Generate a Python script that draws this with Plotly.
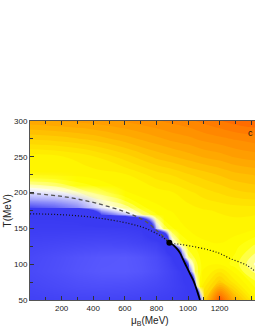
import plotly.graph_objects as go

# ---------------- data ----------------
# warm field (white -> yellow -> orange), coarse grid
warm_mu = [0, 200, 400, 600, 800, 900, 1000, 1100, 1200, 1300, 1430]
warm_T = [50, 75, 100, 125, 150, 175, 200, 225, 250, 275, 300]
warm_z = [
    [0, 0, 0, 0, 0, 0, 0, 0.45, 0.98, 0.60, 0.30],
    [0, 0, 0, 0, 0, 0, 0, 0.32, 0.50, 0.34, 0.18],
    [0, 0, 0, 0, 0, 0, 0.05, 0.26, 0.27, 0.20, 0.06],
    [0, 0, 0, 0, 0, 0.03, 0.20, 0.26, 0.27, 0.24, 0.16],
    [0, 0, 0, 0, 0.06, 0.22, 0.28, 0.30, 0.30, 0.30, 0.28],
    [0, 0, 0, 0.06, 0.26, 0.28, 0.30, 0.32, 0.33, 0.34, 0.34],
    [0, 0.06, 0.18, 0.27, 0.30, 0.32, 0.36, 0.40, 0.43, 0.46, 0.48],
    [0.28, 0.29, 0.30, 0.32, 0.40, 0.43, 0.47, 0.50, 0.53, 0.56, 0.58],
    [0.30, 0.32, 0.37, 0.45, 0.54, 0.57, 0.60, 0.63, 0.65, 0.68, 0.70],
    [0.48, 0.50, 0.54, 0.60, 0.66, 0.69, 0.71, 0.74, 0.76, 0.78, 0.80],
    [0.66, 0.68, 0.70, 0.73, 0.77, 0.79, 0.81, 0.84, 0.87, 0.90, 0.92],
]

# blue (broken phase) field, coarse grid; >0.88 fades out, 1 = outside
blue_mu = [0, 150, 300, 450, 600, 700, 800, 850, 880, 900, 950, 965, 1000, 1005,
           1045, 1050, 1076, 1100, 1430]
blue_T = [50, 70, 90, 110, 130, 150, 170, 180, 190, 210, 230, 300]
blue_z = [
    [0.42, 0.40, 0.38, 0.38, 0.40, 0.42, 0.45, 0.47, 0.48, 0.50, 0.52, 0.53, 0.55, 0.55,
     0.60, 0.62, 0.90, 1, 1],
    [0.34, 0.28, 0.22, 0.20, 0.22, 0.26, 0.32, 0.36, 0.39, 0.42, 0.48, 0.50, 0.55, 0.56,
     0.90, 0.95, 1, 1, 1],
    [0.28, 0.20, 0.12, 0.06, 0.05, 0.10, 0.20, 0.30, 0.36, 0.40, 0.52, 0.55, 0.80, 0.90,
     1, 1, 1, 1, 1],
    [0.30, 0.22, 0.14, 0.08, 0.06, 0.12, 0.24, 0.36, 0.45, 0.55, 0.80, 0.90, 1, 1,
     1, 1, 1, 1, 1],
    [0.38, 0.35, 0.32, 0.30, 0.32, 0.38, 0.45, 0.60, 0.90, 0.96, 1, 1, 1, 1,
     1, 1, 1, 1, 1],
    [0.50, 0.50, 0.50, 0.50, 0.52, 0.56, 0.94, 1, 1, 1, 1, 1, 1, 1,
     1, 1, 1, 1, 1],
    [0.56, 0.57, 0.60, 0.89, 0.94, 0.99, 1, 1, 1, 1, 1, 1, 1, 1,
     1, 1, 1, 1, 1],
    [0.89, 0.90, 0.92, 0.96, 1, 1, 1, 1, 1, 1, 1, 1, 1, 1,
     1, 1, 1, 1, 1],
    [0.925, 0.93, 0.94, 0.97, 1, 1, 1, 1, 1, 1, 1, 1, 1, 1,
     1, 1, 1, 1, 1],
    [0.983, 0.99, 1, 1, 1, 1, 1, 1, 1, 1, 1, 1, 1, 1,
     1, 1, 1, 1, 1],
    [1] * 19,
    [1] * 19,
]

# first-order line (solid)
fo_mu = [882, 905, 928, 950, 970, 990, 1010, 1030, 1045, 1060, 1076]
fo_T = [130, 127, 122, 115.5, 106, 97, 88, 79, 71, 61, 50]
# dashed line
dash_mu = [0, 211, 422, 633, 738, 802, 882]
dash_T = [199, 194.4, 185, 170.4, 158.8, 147, 131]
# dotted line
dot_mu = [0, 211, 422, 633, 738, 844, 882, 949, 1050, 1140, 1203, 1266, 1371, 1430]
dot_T = [170.4, 169, 164.8, 156.5, 149.5, 137, 130, 127.8, 124, 119.4, 114.8, 108, 98.6, 89]
# critical point
cp_mu = [882]
cp_T = [130]

x_ticks = [200, 400, 600, 800, 1000, 1200, 1400]
y_ticks = [50, 100, 150, 200, 250, 300]
X_RANGE = [0, 1424]
Y_RANGE = [50, 300]

# ---------------- figure ----------------
DEEP = "rgb(58,58,242)"
warm_cs = [
    [0.0, "#ffffff"], [0.12, "#ffff50"], [0.2, "#ffff00"], [0.3, "#fff400"],
    [0.45, "#ffd800"], [0.65, "#ffaa00"], [0.85, "#ff8000"], [1.0, "#ff5500"],
]
blue_cs = [
    [0.0, "rgba(92,92,255,1)"], [0.2, "rgba(78,78,250,1)"], [0.4, "rgba(66,66,245,1)"],
    [0.55, "rgba(58,58,242,1)"], [0.88, "rgba(58,58,242,1)"],
    [0.92, "rgba(135,135,250,0.95)"], [0.95, "rgba(205,205,255,0.85)"],
    [0.975, "rgba(255,255,255,0.5)"], [1.0, "rgba(255,255,255,0)"],
]

fig = go.Figure()
# base subplot: warm field + flat blue under the first-order line
fig.add_trace(go.Contour(
    x=warm_mu, y=warm_T, z=warm_z, colorscale=warm_cs, zmin=0, zmax=1,
    contours=dict(start=0.025, end=1.025, size=0.05, coloring="fill"),
    line=dict(width=0, smoothing=1.2), showscale=False, hoverinfo="skip"))
fig.add_trace(go.Scatter(
    x=fo_mu, y=fo_T, mode="lines", fill="tozerox", fillcolor=DEEP,
    line=dict(width=0, color=DEEP), hoverinfo="skip", showlegend=False))
# overlay subplot: blue field + lines
fig.add_trace(go.Heatmap(
    x=blue_mu, y=blue_T, z=blue_z, colorscale=blue_cs, zmin=0, zmax=1,
    zsmooth="best", showscale=False, hoverinfo="skip", xaxis="x2", yaxis="y2"))
fig.add_trace(go.Scatter(
    x=dash_mu, y=dash_T, mode="lines", line=dict(color="#555555", width=1.3, dash="4px,3px", shape="spline"),
    hoverinfo="skip", showlegend=False, xaxis="x2", yaxis="y2"))
fig.add_trace(go.Scatter(
    x=dot_mu, y=dot_T, mode="lines", line=dict(color="#111111", width=1.2, dash="1px,2px", shape="spline"),
    hoverinfo="skip", showlegend=False, xaxis="x2", yaxis="y2"))
fig.add_trace(go.Scatter(
    x=fo_mu, y=fo_T, mode="lines", line=dict(color="black", width=1.8, shape="spline"),
    hoverinfo="skip", showlegend=False, xaxis="x2", yaxis="y2"))
fig.add_trace(go.Scatter(
    x=cp_mu, y=cp_T, mode="markers", marker=dict(color="black", size=6),
    hoverinfo="skip", showlegend=False, xaxis="x2", yaxis="y2"))

tickfont = dict(family="Liberation Sans, Arial, sans-serif", size=8, color="#222222")
titlefont = dict(family="Liberation Sans, Arial, sans-serif", size=10, color="#222222")

fig.update_layout(
    width=255, height=330, margin=dict(l=30, r=0, t=121, b=30),
    paper_bgcolor="white", plot_bgcolor="white", showlegend=False,
    xaxis=dict(range=X_RANGE, tickvals=x_ticks, ticks="inside", ticklen=4, tickcolor="#333333",
               showline=True, linecolor="#555555", linewidth=1, mirror="ticks", showgrid=False,
               zeroline=False, tickfont=tickfont, automargin=False,
               minor=dict(dtick=100, ticks="inside", ticklen=3, tickcolor="#333333")),
    yaxis=dict(range=Y_RANGE, tickvals=y_ticks, ticks="inside", ticklen=4, tickcolor="#333333",
               showline=True, linecolor="#555555", linewidth=1, mirror=False, showgrid=False,
               zeroline=False, tickfont=tickfont, automargin=False,
               minor=dict(dtick=25, ticks="inside", ticklen=3, tickcolor="#333333")),
    xaxis2=dict(range=X_RANGE, overlaying="x", visible=False, showgrid=False, zeroline=False),
    yaxis2=dict(range=Y_RANGE, overlaying="y", visible=False, showgrid=False, zeroline=False),
)

fig.add_annotation(text="μ<sub>B</sub>(MeV)", xref="paper", yref="paper", x=0.533, y=-0.075,
                   showarrow=False, font=titlefont, xanchor="center", yanchor="top")
fig.add_annotation(text="T(MeV)", xref="paper", yref="paper", x=-0.098, y=0.5, textangle=-90,
                   showarrow=False, font=titlefont, xanchor="center", yanchor="middle")
fig.add_annotation(text="c", xref="paper", yref="paper", x=0.982, y=0.933,
                   showarrow=False, font=dict(family="Liberation Sans, Arial, sans-serif", size=9, color="#111111"),
                   xanchor="center", yanchor="middle")

fig.write_html("out.html", config={"displayModeBar": False},
               post_script="document.body.style.margin='0';document.body.style.overflow='hidden';")
